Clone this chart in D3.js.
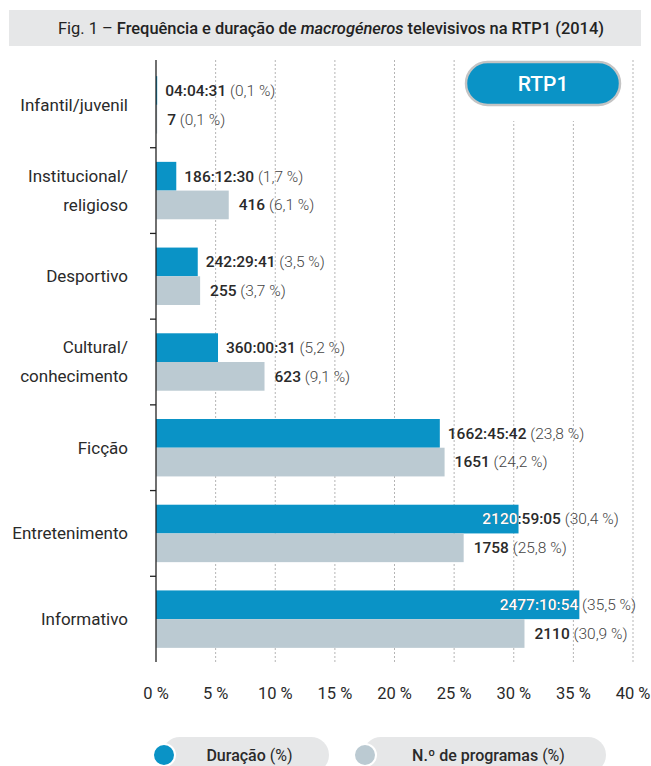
<!DOCTYPE html>
<html>
<head>
<meta charset="utf-8">
<script src="https://cdn.jsdelivr.net/npm/d3@7"></script>
<style>
  body { margin: 0; background: #fff; }
  svg { display: block; }
</style>
</head>
<body>
<div class="chart"></div>
<script>
// ===== data =====
var categories = ['Infantil/juvenil', 'Institucional/religioso', 'Desportivo', 'Cultural/conhecimento', 'Ficção', 'Entretenimento', 'Informativo'];
var categoryLines = [['Infantil/juvenil'], ['Institucional/', 'religioso'], ['Desportivo'], ['Cultural/', 'conhecimento'], ['Ficção'], ['Entretenimento'], ['Informativo']];
var duracaoPct = [0.1, 1.7, 3.5, 5.2, 23.8, 30.4, 35.5];
var duracaoTempo = ['04:04:31', '186:12:30', '242:29:41', '360:00:31', '1662:45:42', '2120:59:05', '2477:10:54'];
var programasPct = [0.1, 6.1, 3.7, 9.1, 24.2, 25.8, 30.9];
var programasN = ['7', '416', '255', '623', '1651', '1758', '2110'];
var xTicks = [0, 5, 10, 15, 20, 25, 30, 35, 40];

var width = 651, height = 766;
var fontFamily = 'Roboto, "DejaVu Sans Condensed", sans-serif';
var blue = '#0a93c6', grey = '#bbcad2', textColor = '#2a2a2a', lightText = '#444';

var margin = {left: 156, right: 18, top: 62, bottom: 104};

var svg = d3.select('.chart').append('svg')
  .attr('width', width)
  .attr('height', height)
  .style('font-family', fontFamily);

// title band
svg.append('rect')
  .attr('x', 9).attr('y', 10)
  .attr('width', 632).attr('height', 36)
  .attr('fill', '#e6e7e8');
var title = svg.append('text')
  .attr('x', 331).attr('y', 34)
  .attr('text-anchor', 'middle')
  .attr('font-size', 17)
  .attr('fill', '#222');
title.append('tspan').text('Fig. 1 – ');
title.append('tspan').attr('font-weight', 500).text('Frequência e duração de ');
title.append('tspan').attr('font-weight', 500).attr('font-style', 'italic').text('macrogéneros');
title.append('tspan').attr('font-weight', 500).text(' televisivos na RTP1 (2014)');
// keep the title inside the same span as the original
if(title.node().getComputedTextLength() > 548){
  title.attr('textLength', 546).attr('lengthAdjust', 'spacingAndGlyphs');
}

var x = d3.scaleLinear().domain([0, 40]).range([margin.left, 633]);
var y = d3.scaleBand().domain(categories).range([margin.top, 662]).paddingInner(0.33).paddingOuter(0.165);
var yOuter = d3.scaleBand().domain(categories).range([margin.top, 662]);

// gridlines
svg.append('g').selectAll('line')
  .data(xTicks.slice(1))
  .join('line')
  .attr('x1', function(d){ return x(d); })
  .attr('x2', function(d){ return x(d); })
  .attr('y1', 60).attr('y2', 662)
  .attr('stroke', '#b5b5b5')
  .attr('stroke-dasharray', '2,2')
  .attr('stroke-width', 1);

// RTP1 badge (white gap behind it)
svg.append('rect')
  .attr('x', 462).attr('y', 56).attr('width', 162).attr('height', 65)
  .attr('fill', '#fff');
svg.append('rect')
  .attr('x', 466).attr('y', 62).attr('width', 154).attr('height', 43)
  .attr('rx', 21.5)
  .attr('fill', blue)
  .attr('stroke', '#c4c4c4')
  .attr('stroke-width', 2.5);
svg.append('text')
  .attr('x', 543).attr('y', 91)
  .attr('text-anchor', 'middle')
  .attr('font-size', 21)
  .attr('font-weight', 500)
  .attr('fill', '#fff')
  .text('RTP1');

// bars
var half = y.bandwidth() / 2;
var defs = svg.append('defs');
categories.forEach(function(c, i){
  defs.append('clipPath').attr('id', 'clipDur' + i)
    .append('rect')
    .attr('x', x(0)).attr('y', y(c))
    .attr('width', x(duracaoPct[i]) - x(0)).attr('height', half);
});

svg.append('g').selectAll('rect')
  .data(categories)
  .join('rect')
  .attr('x', x(0))
  .attr('y', function(d){ return y(d); })
  .attr('width', function(d, i){ return x(duracaoPct[i]) - x(0); })
  .attr('height', half)
  .attr('fill', blue);
svg.append('g').selectAll('rect')
  .data(categories)
  .join('rect')
  .attr('x', x(0))
  .attr('y', function(d){ return y(d) + half; })
  .attr('width', function(d, i){ return x(programasPct[i]) - x(0); })
  .attr('height', half)
  .attr('fill', grey);

function pctText(v){
  return ' (' + String(v).replace('.', ',') + ' %)';
}

// how many leading characters of the duration label sit inside the bar (as in the original)
var insideChars = [0, 0, 0, 0, 0, 4, 10];
var labelSize = 15.5;

function addLabel(g, xPos, yPos, bold, pct, fill){
  var t = g.append('text')
    .attr('x', xPos).attr('y', yPos)
    .attr('dy', '0.35em')
    .attr('font-size', labelSize);
  t.append('tspan').attr('font-weight', 500).attr('fill', fill || textColor).text(bold);
  t.append('tspan').attr('font-weight', 300).attr('fill', fill || lightText).text(pct);
  return t;
}

var labels = svg.append('g');
categories.forEach(function(c, i){
  var yd = y(c) + half / 2;
  var xd = x(duracaoPct[i]) + 8;
  if(insideChars[i] > 0){
    var probe = labels.append('text').attr('font-size', labelSize).attr('font-weight', 500)
      .text(duracaoTempo[i].slice(0, insideChars[i]));
    xd = x(duracaoPct[i]) - probe.node().getComputedTextLength() - 1;
    probe.remove();
  }
  addLabel(labels, xd, yd, duracaoTempo[i], pctText(duracaoPct[i]));
  addLabel(labels, xd, yd, duracaoTempo[i], pctText(duracaoPct[i]), '#fff')
    .attr('clip-path', 'url(#clipDur' + i + ')');
  addLabel(labels, x(programasPct[i]) + 10, y(c) + half * 1.5, programasN[i], pctText(programasPct[i]));
});

// y axis line and ticks
svg.append('line')
  .attr('x1', x(0)).attr('x2', x(0))
  .attr('y1', 60).attr('y2', 662)
  .attr('stroke', '#222').attr('stroke-width', 1.3);
svg.append('g').selectAll('line')
  .data(categories.slice(1))
  .join('line')
  .attr('x1', x(0) - 6).attr('x2', x(0))
  .attr('y1', function(d){ return yOuter(d); })
  .attr('y2', function(d){ return yOuter(d); })
  .attr('stroke', '#222').attr('stroke-width', 1.3);

// category labels
categories.forEach(function(c, i){
  var lines = categoryLines[i];
  var cy = yOuter(c) + yOuter.bandwidth() / 2;
  var t = svg.append('text')
    .attr('x', 128)
    .attr('text-anchor', 'end')
    .attr('font-size', 17)
    .attr('fill', textColor);
  lines.forEach(function(l, k){
    t.append('tspan')
      .attr('x', 128)
      .attr('y', cy + (k - (lines.length - 1) / 2) * 29)
      .attr('dy', '0.35em')
      .text(l);
  });
});

// x tick labels
svg.append('g').selectAll('text')
  .data(xTicks)
  .join('text')
  .attr('x', function(d){ return x(d); })
  .attr('y', 693)
  .attr('dy', '0.35em')
  .attr('text-anchor', 'middle')
  .attr('font-size', 16.5)
  .attr('fill', textColor)
  .text(function(d){ return d + ' %'; });

// legend
var legend = [
  {label: 'Duração', color: blue, x0: 162, x1: 329},
  {label: 'N.º de programas', color: grey, x0: 363, x1: 606}
];
legend.forEach(function(l){
  svg.append('rect')
    .attr('x', l.x0).attr('y', 737)
    .attr('width', l.x1 - l.x0).attr('height', 36)
    .attr('rx', 18)
    .attr('fill', '#e6e7e8');
  svg.append('circle')
    .attr('cx', l.x0 + 2).attr('cy', 755)
    .attr('r', 11)
    .attr('fill', l.color)
    .attr('stroke', '#fff').attr('stroke-width', 2);
  var t = svg.append('text')
    .attr('x', (l.x0 + 14 + l.x1) / 2 - 3).attr('y', 755)
    .attr('dy', '0.35em')
    .attr('text-anchor', 'middle')
    .attr('font-size', 16)
    .attr('fill', textColor);
  t.append('tspan').attr('font-weight', 500).text(l.label + ' ');
  t.append('tspan').text('(%)');
});
</script>
</body>
</html>
